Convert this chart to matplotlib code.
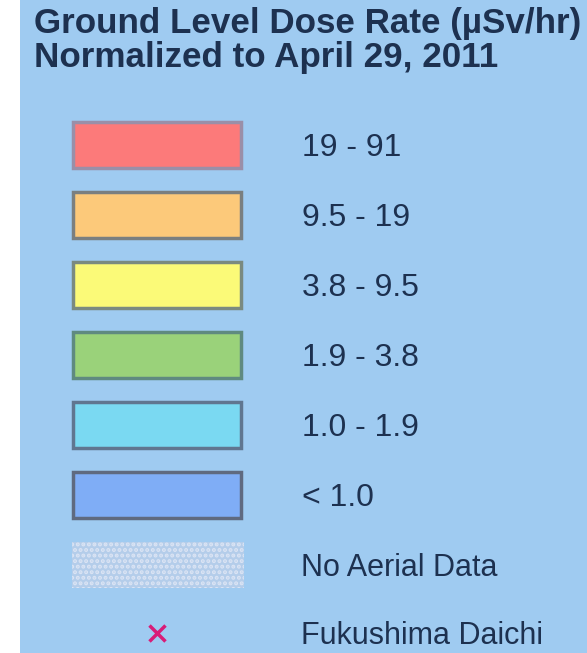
import matplotlib.pyplot as plt
from matplotlib.patches import Rectangle

# legend content
title_lines = ['Ground Level Dose Rate (µSv/hr)', 'Normalized to April 29, 2011']
range_labels = ['19 - 91', '9.5 - 19', '3.8 - 9.5', '1.9 - 3.8', '1.0 - 1.9', '< 1.0']
fill_colors = ['#fc7a7a', '#fcc97a', '#fbfa78', '#9ad27a', '#7ad9f2', '#7fadf6']
edge_colors = ['#9a8fa8', '#7a7f80', '#7a8a80', '#5f8a80', '#607690', '#5f6a80']
extra_labels = ['No Aerial Data', 'Fukushima Daichi']

W, H = 587, 653
bg = '#9fcbf1'
txt = '#1d3150'

fig = plt.figure(figsize=(W / 100, H / 100), dpi=100)
fig.patch.set_facecolor('white')
ax = fig.add_axes([0, 0, 1, 1])
ax.set_xlim(0, W)
ax.set_ylim(H, 0)
ax.axis('off')

# blue panel (white strip on the left)
ax.add_patch(Rectangle((20, 0), W - 20, H, facecolor=bg, edgecolor='none', zorder=0))

plt.rcParams['font.family'] = ['Liberation Sans', 'DejaVu Sans']

ax.text(34, 33, title_lines[0], fontsize=25.2, fontweight='bold', color=txt, va='baseline')
ax.text(34, 67, title_lines[1], fontsize=25.2, fontweight='bold', color=txt, va='baseline')

# colour swatches
for i, (lab, fc, ec) in enumerate(zip(range_labels, fill_colors, edge_colors)):
    yc = 145 + 70 * i
    ax.add_patch(Rectangle((73, yc - 23), 168, 46, facecolor=fc, edgecolor=ec, linewidth=2.5, zorder=2))
    ax.text(302, yc + 11, lab, fontsize=23, color=txt, va='baseline')

# no aerial data: dotted swatch
plt.rcParams['hatch.linewidth'] = 2.0
ax.add_patch(Rectangle((72, 542), 172, 46, facecolor='#b4cdea', edgecolor='#dbe4f4',
                       hatch='...', linewidth=0, zorder=2))
ax.text(301, 576, extra_labels[0], fontsize=22, color=txt, va='baseline')

# plant marker
ax.plot([157], [633], marker='x', markersize=11, markeredgewidth=2.5, color='#d81c78', zorder=3)
ax.text(301, 644, extra_labels[1], fontsize=22, color=txt, va='baseline')

fig.savefig('out.png', dpi=100, facecolor=fig.get_facecolor())
